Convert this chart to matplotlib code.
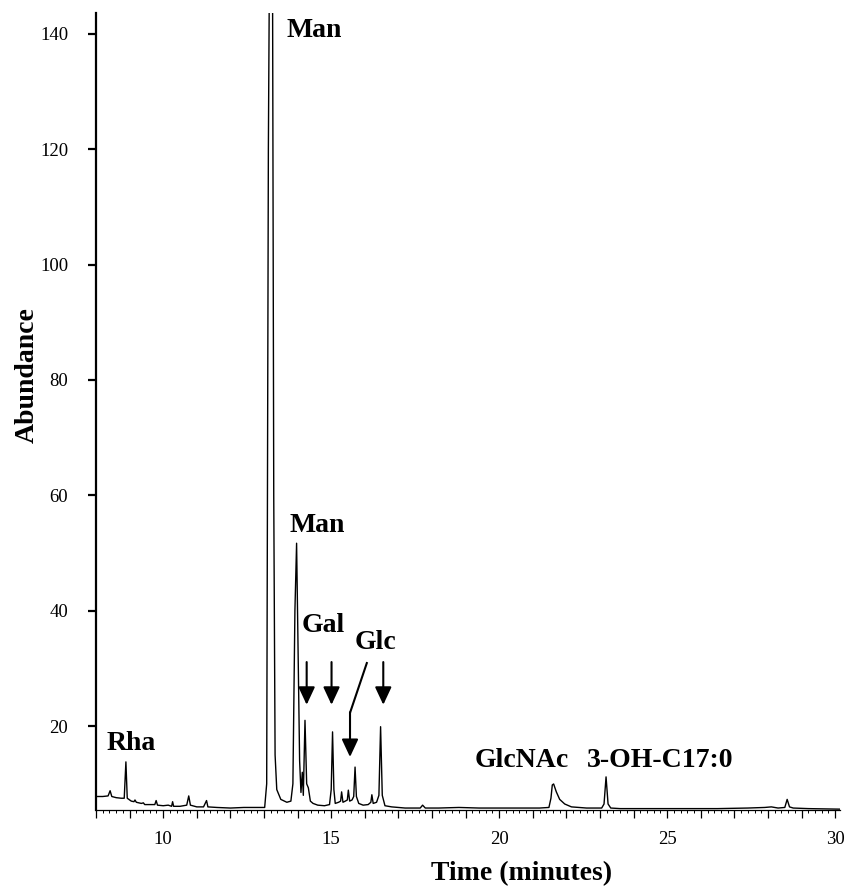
import matplotlib
matplotlib.use("Agg")
import matplotlib.pyplot as plt
from matplotlib.ticker import MultipleLocator, FixedLocator, FixedFormatter

# ---- data ----
time_min = [8.00, 8.20, 8.36, 8.42, 8.47, 8.60, 8.75, 8.84, 8.89, 8.93, 9.05, 9.13, 9.16,
            9.20, 9.35, 9.41, 9.45, 9.60, 9.75, 9.79, 9.83, 10.00, 10.15, 10.25, 10.28,
            10.31, 10.50, 10.70, 10.76, 10.81, 11.00, 11.20, 11.29, 11.33, 11.60, 12.00,
            12.40, 12.80, 13.02, 13.08, 13.13, 13.17, 13.25, 13.29, 13.33, 13.38, 13.50,
            13.68, 13.80, 13.86, 13.92, 13.97, 14.02, 14.06, 14.10, 14.14, 14.17, 14.22,
            14.27, 14.32, 14.38, 14.46, 14.60, 14.80, 14.95, 15.00, 15.04, 15.08, 15.12,
            15.22, 15.28, 15.31, 15.35, 15.42, 15.48, 15.51, 15.55, 15.62, 15.67, 15.71,
            15.75, 15.82, 15.95, 16.10, 16.18, 16.21, 16.25, 16.35, 16.42, 16.47, 16.52,
            16.60, 16.80, 17.20, 17.65, 17.72, 17.80, 18.20, 18.80, 19.40, 20.00, 20.60,
            21.20, 21.48, 21.54, 21.58, 21.62, 21.70, 21.80, 21.95, 22.15, 22.60, 23.05,
            23.12, 23.18, 23.24, 23.32, 23.60, 24.50, 25.50, 26.50, 27.40, 27.90, 28.10,
            28.30, 28.50, 28.57, 28.64, 28.75, 29.20, 30.20]
abundance = [7.8, 7.8, 7.9, 8.8, 7.8, 7.6, 7.5, 7.5, 13.8, 7.5, 7.0, 6.9, 7.2,
             6.8, 6.6, 6.7, 6.4, 6.4, 6.4, 7.1, 6.3, 6.2, 6.3, 6.1, 6.9,
             6.1, 6.1, 6.3, 7.9, 6.3, 6.0, 6.0, 7.1, 6.0, 5.9, 5.8,
             5.9, 5.9, 5.9, 10.0, 120.0, 160.0, 160.0, 60.0, 15.0, 9.0, 7.3,
             6.8, 7.0, 10.0, 40.0, 51.7, 30.0, 14.0, 8.5, 12.0, 8.0, 21.0,
             10.0, 9.3, 7.0, 6.6, 6.3, 6.2, 6.4, 9.0, 19.0, 9.0, 6.6,
             6.8, 7.0, 8.6, 6.8, 7.0, 7.2, 8.9, 7.0, 7.2, 7.8, 12.9,
             7.8, 6.6, 6.3, 6.4, 6.8, 8.1, 6.6, 6.8, 8.0, 19.9, 8.0,
             6.2, 6.0, 5.8, 5.8, 6.3, 5.8, 5.8, 5.9, 5.8, 5.8, 5.8,
             5.8, 5.9, 7.5, 9.8, 9.97, 8.6, 7.3, 6.5, 6.0, 5.8, 5.8,
             6.5, 11.2, 6.5, 5.8, 5.7, 5.7, 5.7, 5.7, 5.8, 5.9, 6.0,
             5.8, 5.9, 7.3, 6.0, 5.8, 5.7, 5.6]

x_tick_values = [10, 15, 20, 25, 30]
y_tick_values = [20, 40, 60, 80, 100, 120, 140]

peak_labels = ["Man", "Man", "Gal", "Glc", "Rha", "GlcNAc", "3-OH-C17:0"]
label_times = [13.675, 13.77, 14.12, 15.71, 8.32, 19.28, 22.60]
label_levels = [139.5, 53.6, 36.3, 33.4, 15.9, 12.9, 12.9]

arrow_times = [14.27, 15.01, 16.55]

# ---- figure ----
W, H = 846, 886
fig = plt.figure(figsize=(W / 100, H / 100), dpi=100)
ax_left, ax_right, ax_top, ax_bottom = 96, 840, 13, 810
ax = fig.add_axes([ax_left / W, 1 - ax_bottom / H, (ax_right - ax_left) / W,
                   (ax_bottom - ax_top) / H])

serif = ["Liberation Serif", "DejaVu Serif"]

ax.plot(time_min, abundance, color="black", lw=1.0)
ax.set_xlim(8, 8 + (ax_right - ax_left) / 33.6)
ax.set_ylim(5.46, 143.6)

for s in ["top", "right"]:
    ax.spines[s].set_visible(False)
ax.spines["left"].set_linewidth(1.6)
ax.spines["bottom"].set_linewidth(0.9)

ax.yaxis.set_major_locator(FixedLocator(y_tick_values))
ax.yaxis.set_major_formatter(FixedFormatter([str(v) for v in y_tick_values]))
ax.tick_params(axis="y", which="major", length=6, width=1.6, pad=14,
               direction="out", labelsize=13.5)

major_x = list(range(8, 31))
ax.xaxis.set_major_locator(FixedLocator(major_x))
ax.xaxis.set_major_formatter(FixedFormatter(
    [str(v) if v in x_tick_values else "" for v in major_x]))
ax.xaxis.set_minor_locator(MultipleLocator(0.2))
ax.tick_params(axis="x", which="major", length=6, width=0.9, pad=9,
               direction="out", labelsize=13.5)
ax.tick_params(axis="x", which="minor", length=2.5, width=0.7, direction="out")

for lab in ax.get_xticklabels() + ax.get_yticklabels():
    lab.set_fontfamily(serif)

# peak labels
for txt, t, v in zip(peak_labels, label_times, label_levels):
    ax.text(t, v, txt, fontsize=20, fontweight="bold", family=serif,
            ha="left", va="baseline", clip_on=False)

# arrows
arrow_kw = dict(arrowstyle="-|>,head_length=0.9,head_width=0.42",
                color="black", lw=1.5, mutation_scale=12, shrinkA=0, shrinkB=0)
for t in arrow_times:
    ax.annotate("", xy=(t, 23.7), xytext=(t, 31.1), arrowprops=arrow_kw)
ax.plot([16.07, 15.56], [31.1, 22.3], color="black", lw=1.5, solid_capstyle="butt")
ax.annotate("", xy=(15.56, 14.65), xytext=(15.56, 22.4), arrowprops=arrow_kw)

# axis titles
fig.text(521.7 / W, 1 - 880 / H, "Time (minutes)", fontsize=20, fontweight="bold",
         family=serif, ha="center", va="baseline")
fig.text(34 / W, 1 - 375 / H, "Abundance", fontsize=20, fontweight="bold",
         family=serif, ha="center", va="baseline", rotation=90,
         rotation_mode="anchor")

fig.savefig("out.png", dpi=100)
